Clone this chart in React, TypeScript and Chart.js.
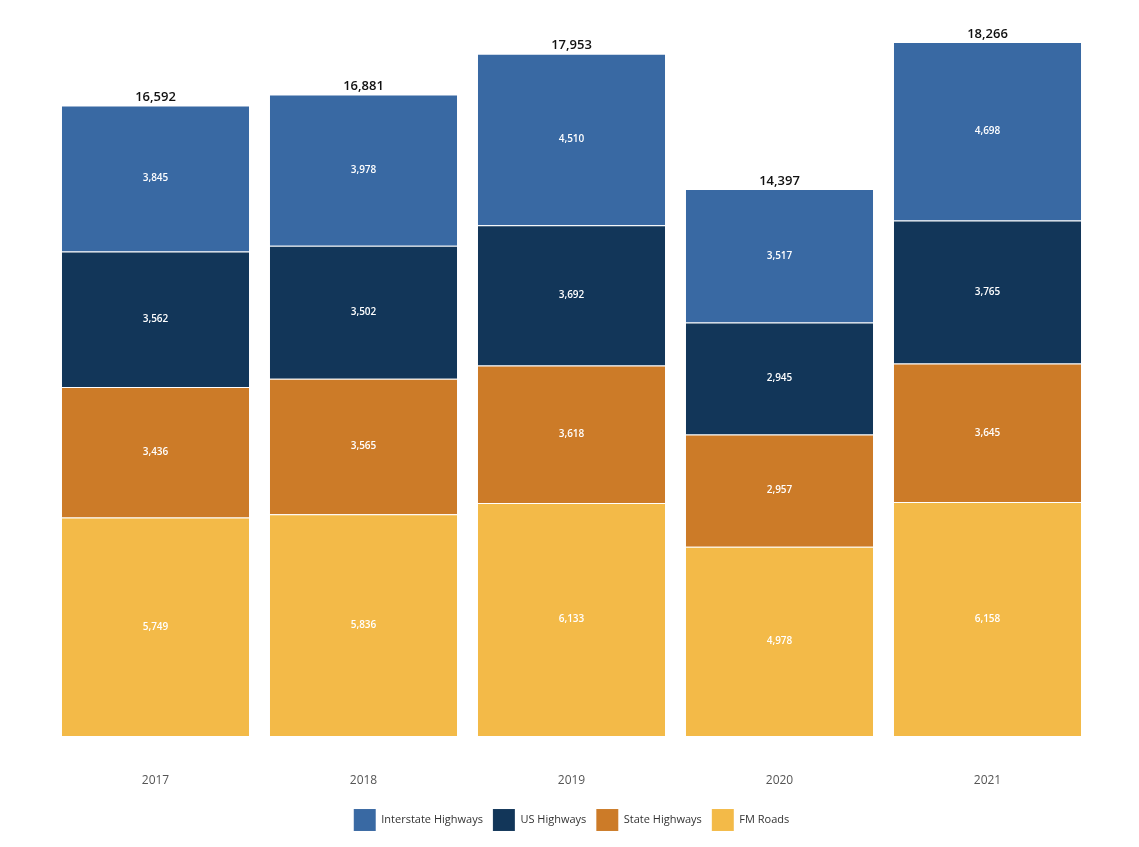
import React, { useEffect, useRef } from "react";
import { Chart, registerables } from "chart.js";

Chart.register(...registerables);

const years = ["2017", "2018", "2019", "2020", "2021"];
const interstate = [3845, 3978, 4510, 3517, 4698];
const usHighways = [3562, 3502, 3692, 2945, 3765];
const stateHighways = [3436, 3565, 3618, 2957, 3645];
const fmRoads = [5749, 5836, 6133, 4978, 6158];

const seriesNames = ["FM Roads", "State Highways", "US Highways", "Interstate Highways"];
const seriesColors = ["#f3ba48", "#cc7b28", "#123659", "#3969a3"];

const fmt = (v: number) => v.toLocaleString("en-US");

const labelsPlugin = {
  id: "segLabels",
  afterDatasetsDraw(chart: any) {
    const ctx = chart.ctx;
    ctx.save();
    ctx.textAlign = "center";
    ctx.textBaseline = "middle";
    ctx.font = "600 10px 'Open Sans'";
    ctx.fillStyle = "#ffffff";
    chart.data.datasets.forEach((ds: any, di: number) => {
      const meta = chart.getDatasetMeta(di);
      meta.data.forEach((bar: any, i: number) => {
        const y = (bar.y + bar.base) / 2;
        ctx.fillText(fmt(ds.data[i]), bar.x, y);
      });
    });
    const lastMeta = chart.getDatasetMeta(chart.data.datasets.length - 1);
    ctx.font = "600 13px 'Open Sans'";
    ctx.fillStyle = "#111111";
    lastMeta.data.forEach((bar: any, i: number) => {
      const total = chart.data.datasets.reduce((s: number, ds: any) => s + ds.data[i], 0);
      ctx.fillText(fmt(total), bar.x, bar.y - 8);
    });
    ctx.restore();
  },
};

export default function App() {
  const ref = useRef<HTMLCanvasElement>(null);
  useEffect(() => {
    if (!ref.current) return;
    const data = [fmRoads, stateHighways, usHighways, interstate];
    const chart = new Chart(ref.current, {
      type: "bar",
      data: {
        labels: years,
        datasets: data.map((d, i) => ({
          label: seriesNames[i],
          data: d,
          backgroundColor: seriesColors[i],
          borderColor: "rgba(255,255,255,0.25)",
          borderWidth: { top: 1, left: 0, right: 0, bottom: 0 },
          borderSkipped: false,
          barPercentage: 0.9,
          categoryPercentage: 1,
        })),
      },
      options: {
        responsive: false,
        animation: false,
        devicePixelRatio: 1,
        layout: { padding: { left: 51.5, right: 47.5, top: 14, bottom: 6 } },
        plugins: {
          legend: {
            position: "bottom",
            reverse: true,
            labels: {
              boxWidth: 22,
              boxHeight: 22,
              padding: 10,
              color: "#333333",
              font: { family: "'Open Sans'", size: 11 },
            },
          },
          tooltip: { enabled: false },
        },
        scales: {
          x: {
            stacked: true,
            grid: { display: false, drawTicks: false },
            border: { display: false },
            ticks: {
              padding: 37,
              color: "#555555",
              font: { family: "'Open Sans'", size: 12 },
            },
            afterFit: (scale: any) => {
              scale.height = 63;
            },
          },
          y: {
            stacked: true,
            display: false,
            min: 0,
            max: 19000,
          },
        },
      },
      plugins: [labelsPlugin],
    });
    return () => chart.destroy();
  }, []);
  return (
    <div style={{ position: "fixed", left: 0, top: 0, width: 1139, height: 847, background: "#fff" }}>
      <canvas ref={ref} width={1139} height={847} style={{ display: "block" }} />
    </div>
  );
}
